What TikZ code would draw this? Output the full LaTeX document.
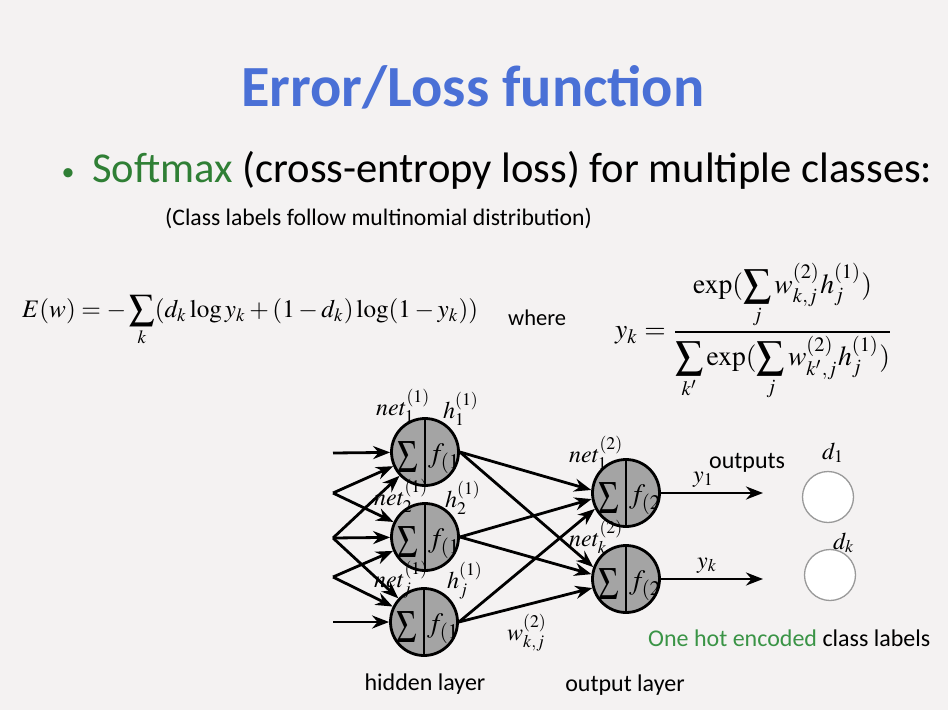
\documentclass[tikz,border=0pt]{standalone}
\usepackage{mathptmx}
\usepackage[no-math]{fontspec}
\setmainfont{Carlito}
\usetikzlibrary{arrows.meta,calc}
\definecolor{bg}{HTML}{F4F2F2}
\definecolor{titleblue}{HTML}{4A70D6}
\definecolor{softgreen}{HTML}{2F7F35}
\definecolor{hotgreen}{HTML}{3A9446}
\definecolor{nodegray}{HTML}{A4A4A4}
\begin{document}
\begin{tikzpicture}[x=1pt,y=-1pt,
  neuron/.style={circle, draw=black, line width=2.8pt, fill=nodegray, minimum size=67pt, inner sep=0pt},
  target/.style={circle, draw=black!40, line width=1.3pt, fill=white, minimum size=51pt, inner sep=0pt},
  conn/.style={line width=2.8pt, -{Stealth[length=17pt,width=13pt]}},
  divider/.style={line width=2.6pt},
  sig/.style={inner sep=0pt, font=\fontsize{46}{46}\selectfont},
  fn/.style={inner sep=0pt, anchor=west, font=\fontsize{28}{28}\selectfont},
  mlab/.style={inner sep=0pt, anchor=base west, font=\fontsize{24}{24}\selectfont},
  txt/.style={inner sep=0pt, anchor=base west, font=\fontsize{24}{24}\selectfont}
  ]
\fill[bg] (0,0) rectangle (948,710);
\useasboundingbox (0,0) rectangle (948,710);

% title and bullet lines
\node[inner sep=0pt, anchor=base, text=titleblue, font=\fontsize{58.3}{60}\selectfont\bfseries] (title) at (473,106) {Error/Loss function};
\node[inner sep=0pt, anchor=base, text=softgreen, font=\fontsize{26}{28}\selectfont] (bullet) at (68,180) {•};
\node[inner sep=0pt, anchor=base west, font=\fontsize{42.6}{44}\selectfont] (line1) at (92,182) {\textcolor{softgreen}{Softmax} (cross-entropy loss) for multiple classes:};
\node[inner sep=0pt, anchor=base west, font=\fontsize{23.7}{25}\selectfont] (line2) at (165,225) {(Class labels follow multinomial distribution)};

% equations
\node[inner sep=0pt, anchor=west] (eqE) at (22,321) {\resizebox{456pt}{!}{$\displaystyle E(w) = -\sum_k (d_k\log y_k + (1-d_k)\log(1-y_k))$}};
\node[txt, font=\fontsize{22.5}{24}\selectfont] (where) at (508,325) {where};
\node[inner sep=0pt, anchor=west] (eqY) at (615,332) {\resizebox{278pt}{!}{$\displaystyle y_k = \frac{\displaystyle\exp(\sum_j w_{k,j}^{(2)} h_j^{(1)})}{\displaystyle\sum_{k'}\exp(\sum_j w_{k',j}^{(2)} h_j^{(1)})}$}};

% hidden neurons
\node[neuron] (h1) at (425,452) {};
\node[neuron] (h2) at (425,537) {};
\node[neuron] (h3) at (424,622) {};
% output neurons
\node[neuron] (o1) at (626,493) {};
\node[neuron] (o2) at (626,579) {};

\foreach \n/\k in {h1/1,h2/1,h3/1,o1/2,o2/2}{
  \begin{scope}
    \clip (\n) circle (32pt);
    \node[fn] (\n f) at ($(\n)+(3,7)$) {$f_{(\k)}$};
  \end{scope}
  \draw[divider] (\n.north) -- (\n.south);
  \node[sig] (\n s) at ($(\n)+(-17,5)$) {\scalebox{0.74}[1]{$\Sigma$}};
}

% inputs
\coordinate (i1) at (333,453);
\coordinate (i2) at (333,493);
\coordinate (i3) at (333,538);
\coordinate (i4) at (333,577);
\coordinate (i5) at (333,622);
\draw[conn] (i1) -- (h1);
\draw[conn] (i2) -- (h1);
\draw[conn] (i2) -- (h2);
\draw[conn] (i3) -- (h1);
\draw[conn] (i3) -- (h2);
\draw[conn] (i3) -- (h3);
\draw[conn] (i4) -- (h2);
\draw[conn] (i4) -- (h3);
\draw[conn] (i5) -- (h3);

% hidden to output
\draw[conn] (h1.east) -- (o1.175);
\draw[conn] (h2.east) -- (o1.190);
\draw[conn] (h3.east) -- (o1.207);
\draw[conn] (h1.east) -- (o2.160);
\draw[conn] (h2.east) -- (o2.172);
\draw[conn] (h3.east) -- (o2.195);

% outputs
\coordinate (y1e) at (763,493);
\coordinate (yke) at (763,579);
\draw[conn] (o1.east) -- (y1e);
\draw[conn] (o2.east) -- (yke);

% targets
\node[target] (t1) at (828,497) {};
\node[target] (t2) at (830,575) {};

% labels
\node[mlab] (net11) at (376,415) {$net_1^{(1)}$};
\node[mlab] (hh1) at (443,418) {$h_1^{(1)}$};
\node[mlab] (net21) at (374,505) {$net_2^{(1)}$};
\node[mlab] (hh2) at (445,507) {$h_2^{(1)}$};
\node[mlab] (netj1) at (374,587) {$net_j^{(1)}$};
\node[mlab] (hhj) at (447,588) {$h_j^{(1)}$};
\node[mlab] (wkj) at (507,640) {$w_{k,j}^{(2)}$};
\node[mlab] (net12) at (569,462) {$net_1^{(2)}$};
\node[mlab] (netk2) at (569,546) {$net_k^{(2)}$};
\node[mlab] (y1) at (693,482) {$y_1$};
\node[mlab] (yk) at (697,568) {$y_k$};
\node[mlab] (d1) at (822,459) {$d_1$};
\node[mlab] (dk) at (833,549) {$d_k$};
\node[txt] (outputs) at (709,468) {outputs};
\node[txt] (onehot) at (648,646) {\textcolor{hotgreen}{One hot encoded} class labels};
\node[txt, anchor=base] (hidden) at (425,690) {hidden layer};
\node[txt, anchor=base] (outl) at (625,691) {output layer};
\end{tikzpicture}
\end{document}
